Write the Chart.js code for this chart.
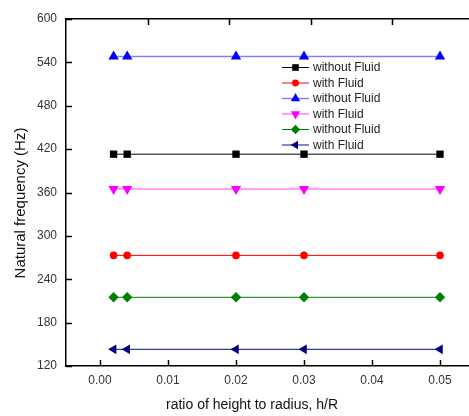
<!DOCTYPE html>
<html>
<head>
<meta charset="utf-8">
<script src="https://cdn.jsdelivr.net/npm/chart.js@4"></script>
<style>
  html, body { margin: 0; padding: 0; background: #fff; overflow: hidden; }
  #wrap { width: 480px; height: 416px; position: relative; }
</style>
</head>
<body>
<div id="wrap"><canvas id="c"></canvas></div>
<script>
// data
const ratios = [0.002, 0.004, 0.02, 0.03, 0.05];
const woFluid1 = [413, 413, 413, 413, 413];
const wFluid1 = [273, 273, 273, 273, 273];
const woFluid2 = [548, 548, 548, 548, 548];
const wFluid2 = [365, 365, 365, 365, 365];
const woFluid3 = [215, 215, 215, 215, 215];
const wFluid3 = [143, 143, 143, 143, 143];
const xTicks = [0, 0.01, 0.02, 0.03, 0.04, 0.05];
const yTicks = [120, 180, 240, 300, 360, 420, 480, 540, 600];
const topTicks = [1, 2, 3, 4];

const FONT = 'Arial, "Liberation Sans", sans-serif';
Chart.defaults.font.family = FONT;

function pts(vals) {
    return vals.map((v, i) => ({ x: ratios[i], y: v }));
}

function series(label, vals, marker, line, style, radius, rotation, lineWidth) {
    return {
        label: label,
        data: pts(vals),
        borderColor: line,
        backgroundColor: marker,
        pointBackgroundColor: marker,
        pointBorderColor: marker,
        pointBorderWidth: 0,
        pointStyle: style,
        pointRadius: radius,
        pointRotation: rotation,
        borderWidth: lineWidth,
        tension: 0
    };
}

const datasets = [
    series('without Fluid', woFluid1, '#000000', '#000000', 'rect', 5.2, 0, 1),
    series('with Fluid', wFluid1, '#ff0000', '#ff0000', 'circle', 3.8, 0, 1),
    series('without Fluid', woFluid2, '#0000ff', '#8080ff', 'triangle', 6, 0, 1.5),
    series('with Fluid', wFluid2, '#ff00ff', '#ff80ff', 'triangle', 6, 180, 1.5),
    series('without Fluid', woFluid3, '#008000', '#008000', 'rectRot', 5.2, 0, 1),
    series('with Fluid', wFluid3, '#000080', '#3a3a98', 'triangle', 5.5, 270, 1.2)
];

// inward tick marks, axis titles and the legend
const decorations = {
    id: 'decorations',
    afterDraw(chart) {
        const ctx = chart.ctx;
        const area = chart.chartArea;
        const sx = chart.scales.x, sy = chart.scales.y, st = chart.scales.x2;
        ctx.save();
        ctx.strokeStyle = '#000';
        ctx.lineWidth = 1.5;
        ctx.beginPath();
        sx.ticks.forEach(t => {
            const px = Math.round(sx.getPixelForValue(t.value)) + 0.5;
            ctx.moveTo(px, area.bottom);
            ctx.lineTo(px, area.bottom - 6);
        });
        st.ticks.forEach(t => {
            const px = Math.round(st.getPixelForValue(t.value)) + 0.5;
            ctx.moveTo(px, area.top);
            ctx.lineTo(px, area.top + 6);
        });
        sy.ticks.forEach(t => {
            const py = Math.round(sy.getPixelForValue(t.value)) + 0.5;
            ctx.moveTo(area.left, py);
            ctx.lineTo(area.left + 6, py);
        });
        ctx.stroke();

        // axis titles
        ctx.fillStyle = '#111';
        ctx.font = '14px ' + FONT;
        ctx.textAlign = 'center';
        ctx.textBaseline = 'middle';
        ctx.fillText('ratio of height to radius, h/R', 252, 405);
        ctx.translate(21, 203);
        ctx.rotate(-Math.PI / 2);
        ctx.font = '15px ' + FONT;
        ctx.fillText('Natural frequency (Hz)', 0, 0);
        ctx.restore();

        // legend
        ctx.save();
        ctx.font = '12px ' + FONT;
        ctx.textAlign = 'left';
        ctx.textBaseline = 'middle';
        chart.data.datasets.forEach((ds, i) => {
            const y = 67.5 + i * 15.5;
            ctx.strokeStyle = ds.borderColor;
            ctx.lineWidth = ds.borderWidth;
            ctx.beginPath();
            ctx.moveTo(282, y);
            ctx.lineTo(309, y);
            ctx.stroke();
            ctx.fillStyle = ds.pointBackgroundColor;
            ctx.strokeStyle = ds.pointBorderColor;
            Chart.helpers.drawPoint(ctx, {
                pointStyle: ds.pointStyle,
                radius: ds.pointRadius * 0.9,
                rotation: ds.pointRotation,
                borderWidth: 0
            }, 295.5, y);
            ctx.fillStyle = '#222';
            ctx.fillText(ds.label, 313, y + 0.5);
        });
        ctx.restore();
    }
};

new Chart(document.getElementById('c'), {
    type: 'line',
    data: { datasets: datasets },
    plugins: [decorations],
    options: {
        responsive: true,
        maintainAspectRatio: false,
        animation: false,
        layout: { padding: { left: 0, right: 5, top: 0, bottom: 0 } },
        plugins: {
            legend: { display: false },
            tooltip: { enabled: false }
        },
        scales: {
            x: {
                type: 'linear',
                position: 'bottom',
                min: -0.005,
                max: 0.055,
                afterBuildTicks: s => { s.ticks = xTicks.map(v => ({ value: v })); },
                afterFit: s => { s.height = 50; },
                ticks: {
                    color: '#333',
                    font: { size: 12 },
                    padding: 7,
                    maxRotation: 0,
                    autoSkip: false,
                    callback: v => v.toFixed(2)
                },
                grid: { display: false, drawTicks: false },
                border: { display: true, color: '#000', width: 1.5 }
            },
            x2: {
                type: 'linear',
                position: 'top',
                min: 0,
                max: 5,
                afterBuildTicks: s => { s.ticks = topTicks.map(v => ({ value: v })); },
                afterFit: s => { s.height = 19; },
                ticks: { display: false },
                grid: { display: false, drawTicks: false },
                border: { display: true, color: '#000', width: 1.5 }
            },
            y: {
                type: 'linear',
                min: 120,
                max: 600,
                afterBuildTicks: s => { s.ticks = yTicks.map(v => ({ value: v })); },
                afterFit: s => { s.width = 66; },
                ticks: {
                    color: '#333',
                    font: { size: 12 },
                    padding: 9,
                    autoSkip: false
                },
                grid: { display: false, drawTicks: false },
                border: { display: true, color: '#000', width: 1.5 }
            }
        }
    }
});
</script>
</body>
</html>
